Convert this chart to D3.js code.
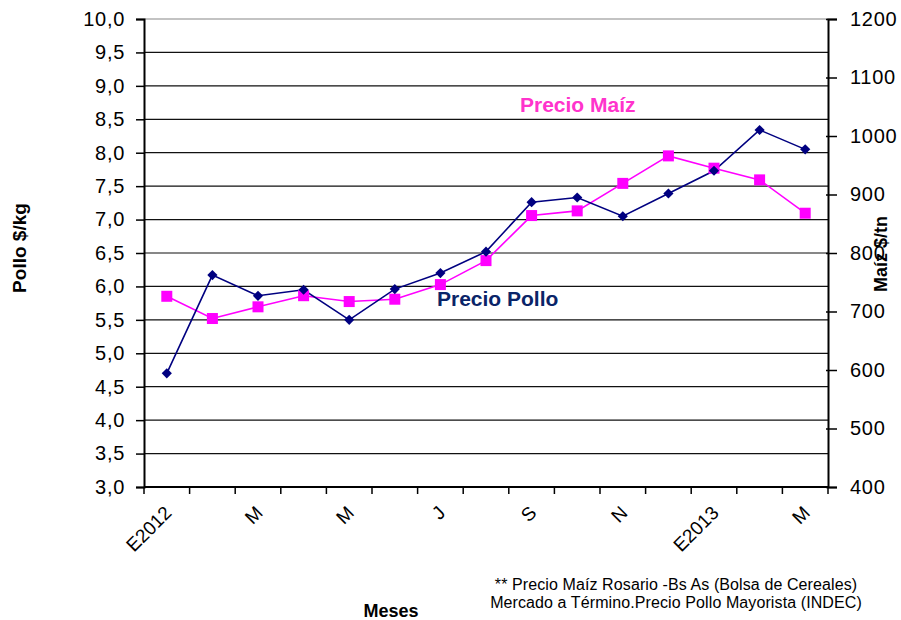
<!DOCTYPE html>
<html><head><meta charset="utf-8">
<script src="https://cdn.jsdelivr.net/npm/d3@7"></script>
<style>body{margin:0;background:#fff;} svg{font-family:"Liberation Sans",Arial,sans-serif;}</style>
</head><body>
<svg id="c" width="901" height="620"></svg>
<script>
const months = ["E2012","F","M","A","M","J","J","A","S","O","N","D","E2013","F","M"];
const shownLabels = [true,false,true,false,true,false,true,false,true,false,true,false,true,false,true];
const pollo = [4.70,6.17,5.86,5.95,5.50,5.96,6.20,6.52,7.26,7.33,7.05,7.39,7.73,8.34,8.05];
const maiz = [726,688,708,727,717,721,746,787,864,872,919,966,945,925,868];
const leftTicks = d3.range(3,10.01,0.5);
const rightTicks = d3.range(400,1201,100);

const svg = d3.select("#c");
const L=144, R=828, T=19, B=487;
const FF = "Liberation Sans, Arial, sans-serif";
const x = d3.scaleBand().domain(d3.range(months.length)).range([L,R]).padding(0);
const yL = d3.scaleLinear().domain([3,10]).range([B,T]);
const yR = d3.scaleLinear().domain([400,1200]).range([B,T]);
const cx = i => x(i)+x.bandwidth()/2;

// gridlines
svg.append("g").selectAll("line").data(leftTicks.slice(1)).join("line")
  .attr("x1",L).attr("x2",R).attr("y1",d=>yL(d)).attr("y2",d=>yL(d))
  .attr("stroke",(d)=>d>=9.99?"#888":"#111").attr("stroke-width",1.2);

// left axis
const gl = svg.append("g").attr("transform",`translate(${L},0)`)
  .call(d3.axisLeft(yL).tickValues(leftTicks).tickFormat(d=>d3.format(".1f")(d).replace(".",",")).tickSize(8).tickPadding(11));
gl.select(".domain").attr("stroke","#000").attr("stroke-width",2);
gl.selectAll(".tick line").attr("stroke","#000").attr("stroke-width",1.5);
gl.selectAll("text").attr("font-size",20).attr("letter-spacing",0.7).attr("fill","#000").attr("font-family",FF);

// right axis
const gr = svg.append("g").attr("transform",`translate(${R},0)`)
  .call(d3.axisRight(yR).tickValues(rightTicks).tickFormat(d3.format("d")).tickSize(9).tickPadding(13));
gr.select(".domain").attr("stroke","#000").attr("stroke-width",2);
gr.selectAll(".tick line").attr("stroke","#000").attr("stroke-width",1.5).attr("x1",-2);
gr.selectAll("text").attr("font-size",20).attr("letter-spacing",0.7).attr("fill","#000").attr("font-family",FF);

// bottom axis
const xb = d3.scaleLinear().domain([0,months.length]).range([L,R]);
const gb = svg.append("g").attr("transform",`translate(0,${B})`);
gb.append("line").attr("x1",L).attr("x2",R).attr("stroke","#000").attr("stroke-width",2);
gb.selectAll("line.t").data(d3.range(months.length+1)).join("line").attr("class","t")
  .attr("x1",d=>xb(d)).attr("x2",d=>xb(d)).attr("y1",0).attr("y2",7).attr("stroke","#000").attr("stroke-width",1.5);
gb.selectAll("text").data(months.map((m,i)=>({m,i})).filter(d=>shownLabels[d.i])).join("text")
  .attr("transform",d=>`translate(${cx(d.i)+6},${27}) rotate(-45)`)
  .attr("text-anchor","end").attr("font-size",19).attr("fill","#000").text(d=>d.m);

// lines
const lineL = d3.line().x((d,i)=>cx(i)).y(d=>yL(d));
const lineR = d3.line().x((d,i)=>cx(i)).y(d=>yR(d));
svg.append("path").datum(maiz).attr("d",lineR).attr("fill","none").attr("stroke","#FF00FF").attr("stroke-width",1.6);
svg.append("path").datum(pollo).attr("d",lineL).attr("fill","none").attr("stroke","#000080").attr("stroke-width",1.6);

svg.append("g").selectAll("rect").data(maiz).join("rect")
  .attr("x",(d,i)=>cx(i)-5.5).attr("y",d=>yR(d)-5.5).attr("width",11).attr("height",11).attr("fill","#FF00FF");
svg.append("g").selectAll("path").data(pollo).join("path")
  .attr("d",d3.symbol(d3.symbolSquare,52))
  .attr("transform",(d,i)=>`translate(${cx(i)},${yL(d)}) rotate(45)`).attr("fill","#000080");

// series labels
svg.append("text").attr("x",520).attr("y",112).attr("font-size",21).attr("font-weight","bold").attr("fill","#FF33CC").text("Precio Maíz");
svg.append("text").attr("x",437).attr("y",306).attr("font-size",21).attr("font-weight","bold").attr("fill","#0A2468").text("Precio Pollo");

// axis titles
svg.append("text").attr("transform","translate(26,248) rotate(-90)").attr("text-anchor","middle")
  .attr("font-size",19).attr("font-weight","bold").text("Pollo $/kg");
svg.append("text").attr("transform","translate(887,254) rotate(-90)").attr("text-anchor","middle")
  .attr("font-size",18).attr("font-weight","bold").text("Maíz $/tn");
svg.append("text").attr("x",391).attr("y",617).attr("text-anchor","middle")
  .attr("font-size",18).attr("font-weight","bold").text("Meses");

// footnote
svg.append("text").attr("x",676).attr("y",590).attr("text-anchor","middle").attr("font-size",16).attr("letter-spacing","0.1").text("** Precio Maíz Rosario -Bs As (Bolsa de Cereales)");
svg.append("text").attr("x",676).attr("y",608).attr("text-anchor","middle").attr("font-size",16).attr("letter-spacing","0.1").text("Mercado a Término.Precio Pollo Mayorista (INDEC)");
</script>
</body></html>
